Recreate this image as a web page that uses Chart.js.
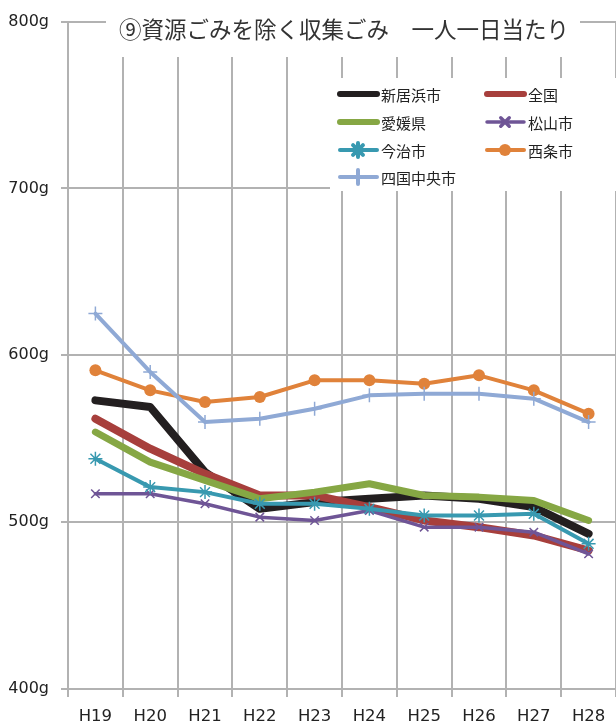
<!DOCTYPE html>
<html lang="ja">
<head>
<meta charset="utf-8">
<title>資源ごみを除く収集ごみ 一人一日当たり</title>
<script src="https://cdn.jsdelivr.net/npm/chart.js@4.4.1/dist/chart.umd.min.js"></script>
<style>
  html, body { margin: 0; padding: 0; background: #fff; }
  #wrap { position: relative; width: 616px; height: 728px; }
</style>
</head>
<body>
<div id="wrap"><canvas id="gomi" width="616" height="728"></canvas></div>
<script>
// 年度
const years = ['H19', 'H20', 'H21', 'H22', 'H23', 'H24', 'H25', 'H26', 'H27', 'H28'];

// 一人一日当たり (g)
const niihama   = [573, 569, 530, 508, 512, 514, 516, 514, 509, 493];
const zenkoku   = [562, 544, 529, 516, 516, 509, 501, 497, 492, 483];
const ehime     = [554, 536, 525, 514, 518, 523, 516, 515, 513, 501];
const matsuyama = [517, 517, 511, 503, 501, 507, 497, 497, 494, 481];
const imabari   = [538, 521, 518, 511, 511, 508, 504, 504, 505, 487];
const saijo     = [591, 579, 572, 575, 585, 585, 583, 588, 579, 565];
const shikoku   = [625, 590, 560, 562, 568, 576, 577, 577, 574, 560];

const yTicks = [400, 500, 600, 700, 800];
const titleText = '⑨資源ごみを除く収集ごみ　一人一日当たり';

const GRID = '#b2b2b2';

function series(label, data, color, width, style, radius) {
    return {
        label: label,
        data: data,
        borderColor: color,
        backgroundColor: color,
        borderWidth: width,
        borderJoinStyle: 'round',
        borderCapStyle: 'round',
        pointStyle: style || 'circle',
        pointRadius: style ? radius : 0,
        pointBorderWidth: style === 'circle' ? 0 : 1.5,
        pointBorderColor: color,
        pointBackgroundColor: color,
        tension: 0,
        fill: false
    };
}

const datasets = [
    series('新居浜市', niihama, '#231f20', 8),
    series('全国', zenkoku, '#a73f3c', 8),
    series('愛媛県', ehime, '#86a744', 7),
    series('松山市', matsuyama, '#6f5596', 3.5, 'crossRot', 6),
    series('今治市', imabari, '#3899b0', 4, 'star', 7),
    series('西条市', saijo, '#e0823a', 4, 'circle', 6),
    series('四国中央市', shikoku, '#8fa9d5', 4, 'cross', 7)
];
// 後の系列ほど上に描く
datasets.forEach((d, i) => { d.order = datasets.length - i; });

// タイトルと凡例は白地の箱でグラフの上に重ねる
const overlay = {
    id: 'overlay',
    afterDraw(chart) {
        const ctx = chart.ctx;
        ctx.save();

        ctx.fillStyle = '#fff';
        ctx.fillRect(106, 0, 474, 57);
        ctx.fillStyle = '#333';
        ctx.font = '22.5px "Noto Sans CJK JP"';
        ctx.textAlign = 'center';
        ctx.textBaseline = 'middle';
        ctx.fillText(titleText, 344, 29);

        ctx.fillStyle = '#fff';
        ctx.fillRect(330, 78, 286, 113);

        const colX = [338, 485];
        const rowY = [94, 122, 150, 177];
        ctx.font = '15px "Noto Sans CJK JP"';
        ctx.textAlign = 'left';
        chart.data.datasets.forEach((ds, i) => {
            const x = colX[i % 2];
            const y = rowY[Math.floor(i / 2)];
            ctx.strokeStyle = ds.borderColor;
            ctx.fillStyle = ds.borderColor;
            ctx.lineCap = 'round';
            ctx.lineWidth = Math.min(ds.borderWidth, 6);
            ctx.beginPath();
            ctx.moveTo(x + 2, y);
            ctx.lineTo(x + 39, y);
            ctx.stroke();
            if (ds.pointRadius > 0) {
                Chart.helpers.drawPoint(ctx, {
                    pointStyle: ds.pointStyle,
                    radius: ds.pointRadius,
                    rotation: 0,
                    borderWidth: ds.pointBorderWidth
                }, x + 20, y);
            }
            ctx.fillStyle = '#222';
            ctx.fillText(ds.label, x + 43, y + 1);
        });
        ctx.restore();
    }
};

new Chart(document.getElementById('gomi'), {
    type: 'line',
    data: { labels: years, datasets: datasets },
    options: {
        responsive: false,
        animation: false,
        layout: { autoPadding: false, padding: { top: 18, right: 0, left: 0, bottom: 0 } },
        plugins: {
            legend: { display: false },
            title: { display: false },
            tooltip: { enabled: false }
        },
        scales: {
            x: {
                offset: true,
                grid: { offset: true, color: GRID, lineWidth: 2, tickLength: 8 },
                border: { color: GRID, width: 2 },
                ticks: {
                    color: '#222',
                    font: { family: 'DejaVu Sans', size: 16.5 },
                    padding: 10,
                    maxRotation: 0
                },
                afterFit(scale) { scale.height = 39; }
            },
            y: {
                min: 400,
                max: 800,
                afterBuildTicks(scale) { scale.ticks = yTicks.map(v => ({ value: v })); },
                grid: { color: GRID, lineWidth: 2, tickLength: 7 },
                border: { color: GRID, width: 2 },
                ticks: {
                    color: '#222',
                    font: { family: 'DejaVu Sans', size: 16 },
                    padding: 12,
                    callback: v => v + 'g'
                },
                afterFit(scale) { scale.width = 68; }
            }
        }
    },
    plugins: [overlay]
});
</script>
</body>
</html>
